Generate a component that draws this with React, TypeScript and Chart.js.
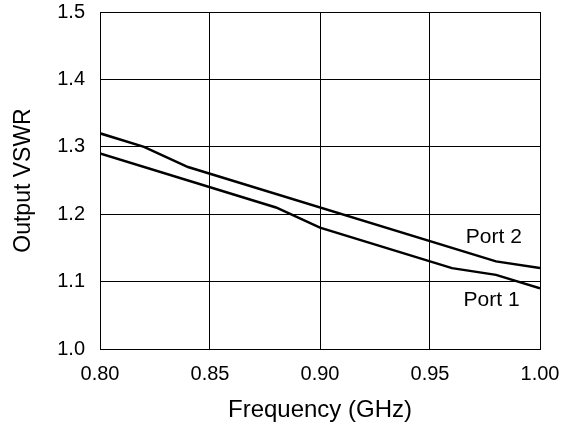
import React, { useEffect, useRef } from "react";
import { Chart, registerables } from "chart.js";

Chart.register(...registerables);

const frequencyPort1 = [0.80, 0.88, 0.90, 0.96, 0.98, 1.00];
const vswrPort1 = [1.29, 1.21, 1.18, 1.12, 1.11, 1.09];
const frequencyPort2 = [0.80, 0.82, 0.84, 0.98, 1.00];
const vswrPort2 = [1.32, 1.30, 1.27, 1.13, 1.12];
const xTicks = [0.80, 0.85, 0.90, 0.95, 1.00];
const yTicks = [1.0, 1.1, 1.2, 1.3, 1.4, 1.5];
const seriesLabels = ["Port 1", "Port 2"];
const labelAnchors = [
  { x: 0.978, y: 1.073 },
  { x: 0.979, y: 1.166 },
];

const FONT = "Arial, 'Liberation Sans', Helvetica, sans-serif";

const labelPlugin = {
  id: "portLabels",
  afterDatasetsDraw(chart: any) {
    const ctx = chart.ctx;
    const xs = chart.scales.x;
    const ys = chart.scales.y;
    ctx.save();
    ctx.font = `21px ${FONT}`;
    ctx.fillStyle = "#000";
    ctx.textAlign = "center";
    ctx.textBaseline = "middle";
    seriesLabels.forEach((t, i) => {
      const a = labelAnchors[i];
      ctx.fillText(t, xs.getPixelForValue(a.x), ys.getPixelForValue(a.y));
    });
    ctx.restore();
  },
};

export default function App() {
  const ref = useRef<HTMLCanvasElement | null>(null);
  useEffect(() => {
    document.body.style.margin = "0";
    if (!ref.current) return;
    const chart = new Chart(ref.current, {
      type: "scatter",
      data: {
        datasets: [
          {
            label: seriesLabels[0],
            data: frequencyPort1.map((f, i) => ({ x: f, y: vswrPort1[i] })),
            showLine: true,
            borderColor: "#000",
            borderWidth: 2.5,
            pointRadius: 0,
            tension: 0,
          },
          {
            label: seriesLabels[1],
            data: frequencyPort2.map((f, i) => ({ x: f, y: vswrPort2[i] })),
            showLine: true,
            borderColor: "#000",
            borderWidth: 2.5,
            pointRadius: 0,
            tension: 0,
          },
        ],
      },
      options: {
        animation: false,
        responsive: false,
        devicePixelRatio: 1,
        layout: { padding: { left: 0, right: 32, top: 12, bottom: 0 } },
        plugins: { legend: { display: false }, tooltip: { enabled: false } },
        scales: {
          x: {
            type: "linear",
            min: 0.8,
            max: 1.0,
            afterBuildTicks: (s: any) => {
              s.ticks = xTicks.map((v) => ({ value: v }));
            },
            afterFit: (s: any) => {
              s.height = 81;
              s.paddingLeft = 0;
              s.paddingRight = 0;
            },
            grid: { color: "#000", lineWidth: 1, drawTicks: false },
            border: { color: "#000", width: 1 },
            ticks: {
              color: "#000",
              font: { size: 20, family: FONT },
              padding: 13,
              maxRotation: 0,
              callback: (v: any) => Number(v).toFixed(2),
            },
            title: {
              display: true,
              text: "Frequency (GHz)",
              color: "#000",
              font: { size: 24, family: FONT },
              padding: { top: 0, bottom: 5 },
            },
          },
          y: {
            type: "linear",
            min: 1.0,
            max: 1.5,
            afterBuildTicks: (s: any) => {
              s.ticks = yTicks.map((v) => ({ value: v }));
            },
            afterFit: (s: any) => {
              s.width = 100;
              s.paddingTop = 0;
              s.paddingBottom = 0;
            },
            grid: { color: "#000", lineWidth: 1, drawTicks: false },
            border: { color: "#000", width: 1 },
            ticks: {
              color: "#000",
              font: { size: 20, family: FONT },
              padding: 15,
              callback: (v: any) => Number(v).toFixed(1),
            },
            title: {
              display: true,
              text: "Output VSWR",
              color: "#000",
              font: { size: 23, family: FONT },
              padding: { top: 10, bottom: 0 },
            },
          },
        },
      },
      plugins: [labelPlugin],
    });
    return () => chart.destroy();
  }, []);
  return (
    <div style={{ width: 572, height: 430, background: "#fff" }}>
      <canvas ref={ref} width={572} height={430} style={{ display: "block" }} />
    </div>
  );
}
